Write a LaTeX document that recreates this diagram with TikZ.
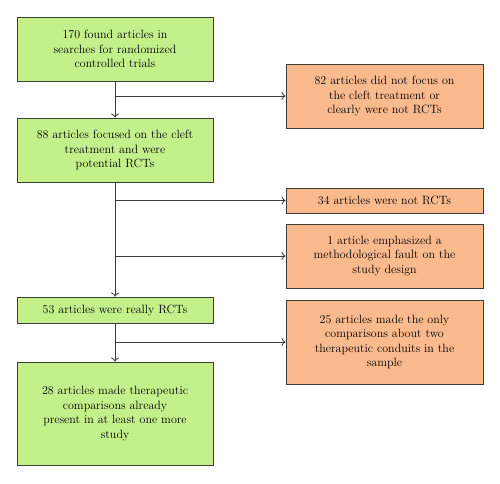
\documentclass[tikz,border=0pt]{standalone}
\usetikzlibrary{arrows.meta}
\definecolor{boxgreen}{RGB}{196,240,140}
\definecolor{boxorange}{RGB}{250,186,142}
\definecolor{edge}{RGB}{60,60,60}
\begin{document}
\begin{tikzpicture}[x=1pt,y=-1pt,
  base/.style={draw=edge,line width=0.9pt,align=center,inner sep=0pt,font=\fontsize{12}{14.5}\selectfont},
  gbox/.style={base,fill=boxgreen,minimum width=196pt},
  obox/.style={base,fill=boxorange,minimum width=197pt},
  arr/.style={draw=edge,line width=0.8pt,-{To[length=4pt,width=8pt]}}]
\useasboundingbox (0,0) rectangle (500,483);
\node[gbox,minimum height=64pt] (b1) at (115,49) {170 found articles in\\searches for randomized\\controlled trials};
\node[gbox,minimum height=64pt] (b2) at (115,150) {88 articles focused on the cleft\\treatment and were\\potential RCTs};
\node[gbox,minimum height=26pt] (b3) at (115,310) {53 articles were really RCTs};
\node[gbox,minimum height=103pt] (b4) at (115,413.5) {28 articles made therapeutic\\comparisons already\\present in at least one more\\study};
\node[obox,minimum height=64pt] (o1) at (384.5,96) {82 articles did not focus on\\the cleft treatment or\\clearly were not RCTs};
\node[obox,minimum height=25pt] (o2) at (384.5,200.5) {34 articles were not RCTs};
\node[obox,minimum height=64pt] (o3) at (384.5,256) {1 article emphasized a\\methodological fault on the\\study design};
\node[obox,minimum height=84pt] (o4) at (384.5,342) {25 articles made the only\\comparisons about two\\therapeutic conduits in the\\sample};
\draw[arr] (b1.south) -- (b2.north);
\draw[arr] (b1.south |- o1.west) -- (o1.west);
\draw[arr] (b2.south) -- (b3.north);
\draw[arr] (b2.south |- o2.west) -- (o2.west);
\draw[arr] (b2.south |- o3.west) -- (o3.west);
\draw[arr] (b3.south) -- (b4.north);
\draw[arr] (b3.south |- o4.west) -- (o4.west);
\end{tikzpicture}
\end{document}
